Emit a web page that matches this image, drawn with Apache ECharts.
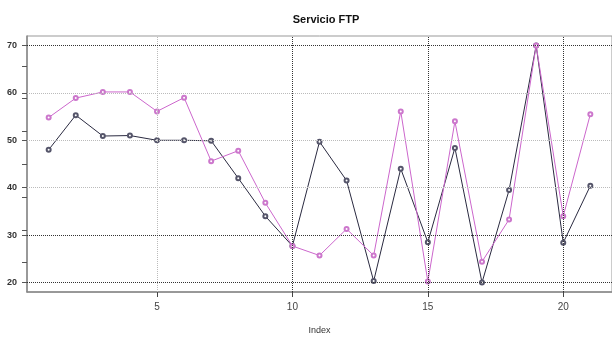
<!DOCTYPE html>
<html>
<head>
<meta charset="utf-8">
<script src="https://cdn.jsdelivr.net/npm/echarts@6/dist/echarts.min.js"></script>
<style>
  html, body { margin: 0; padding: 0; background: #fff; }
  #chart { width: 612px; height: 340px; }
</style>
</head>
<body>
<div id="chart"></div>
<script>
// valores
const indices = [1, 2, 3, 4, 5, 6, 7, 8, 9, 10, 11, 12, 13, 14, 15, 16, 17, 18, 19, 20, 21];
const serieNegra = [48.0, 55.3, 50.9, 51.0, 50.0, 50.0, 49.9, 42.0, 34.0, 27.7, 49.7, 41.5, 20.3, 44.0, 28.5, 48.4, 20.0, 39.5, 70.0, 28.4, 40.4];
const serieMagenta = [54.8, 58.9, 60.2, 60.2, 56.1, 59.0, 45.6, 47.8, 36.8, 27.7, 25.7, 31.3, 25.7, 56.1, 20.2, 54.0, 24.4, 33.3, 70.0, 34.0, 55.5];
const xTicks = [5, 10, 15, 20];
const yTicks = [20, 30, 40, 50, 60, 70];
// marcas sueltas del eje izquierdo (otra escala superpuesta)
const yTicksExtra = [24.2, 31.1, 38.0, 45.0, 51.9, 58.9, 65.7];
// lineas de rejilla oscuras / claras
const xGridDark = [10, 15, 20];
const yGridDark = [20, 30, 70];

const chart = echarts.init(document.getElementById('chart'));

const pares = (vals) => vals.map((v, i) => [indices[i], v]);

const oscuro = { color: '#333', type: [1, 1], width: 1 };
const claro = { color: '#bbb', type: [1, 1], width: 1 };

const gridLines = [];
xTicks.forEach(v => gridLines.push({ xAxis: v, lineStyle: xGridDark.includes(v) ? oscuro : claro }));
yTicks.forEach(v => gridLines.push({ yAxis: v, lineStyle: yGridDark.includes(v) ? oscuro : claro }));

chart.setOption({
  animation: false,
  title: {
    text: 'Servicio FTP',
    left: 321,
    top: 9,
    textAlign: 'center',
    textStyle: { fontFamily: 'Liberation Sans', fontSize: 11, fontWeight: 'bold', color: '#111' }
  },
  grid: {
    left: 27, top: 36, right: -3, bottom: 39,
    show: true, borderColor: '#999', borderWidth: 1
  },
  xAxis: {
    type: 'value',
    min: 0.2, max: 21.8,
    name: 'Index',
    nameLocation: 'middle',
    nameGap: 34,
    nameTextStyle: { fontFamily: 'Liberation Sans', fontSize: 9, color: '#333' },
    axisLine: { show: true, lineStyle: { color: '#888', width: 1.5 } },
    axisTick: { show: true, length: 5, customValues: xTicks, lineStyle: { color: '#444' } },
    axisLabel: { customValues: xTicks, margin: 10, fontFamily: 'Liberation Sans', fontSize: 10, color: '#444' },
    splitLine: { show: false }
  },
  yAxis: {
    type: 'value',
    min: 18, max: 72,
    axisLine: { show: true, lineStyle: { color: '#888', width: 1.5 } },
    axisTick: { show: true, length: 5, customValues: yTicks.concat(yTicksExtra), lineStyle: { color: '#555' } },
    axisLabel: { customValues: yTicks, margin: 10, fontFamily: 'Liberation Sans', fontSize: 9, fontWeight: 'bold', color: '#333' },
    splitLine: { show: false }
  },
  series: [
    {
      type: 'line',
      data: [],
      z: 1,
      silent: true,
      markLine: {
        silent: true,
        symbol: 'none',
        label: { show: false },
        animation: false,
        data: gridLines
      }
    },
    {
      name: 'negra',
      type: 'line',
      data: pares(serieNegra),
      z: 3,
      symbol: 'emptyCircle',
      symbolSize: 4,
      lineStyle: { color: '#2a2a40', width: 1 },
      itemStyle: { color: '#55556a', borderWidth: 0.8 }
    },
    {
      name: 'magenta',
      type: 'line',
      data: pares(serieMagenta),
      z: 4,
      symbol: 'emptyCircle',
      symbolSize: 4,
      lineStyle: { color: '#cc66cc', width: 1 },
      itemStyle: { color: '#cc77cc', borderWidth: 0.8 }
    }
  ]
});
</script>
</body>
</html>
